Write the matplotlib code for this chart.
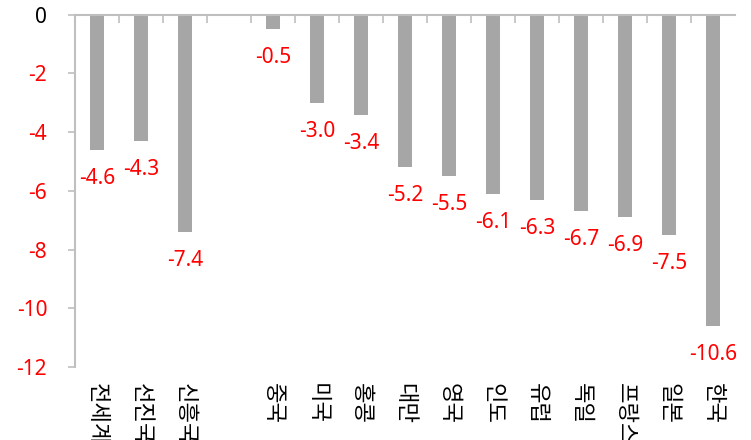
import numpy as np
import matplotlib
matplotlib.use('Agg')
import matplotlib.pyplot as plt
import matplotlib.transforms as mtransforms

plt.rcParams['font.family'] = ['Noto Sans', 'Noto Sans CJK KR', 'DejaVu Sans']

# categories (empty string = gap slot between groups)
categories = ['전세계', '선진국', '신흥국', '',
              '중국', '미국', '홍콩', '대만', '영국', '인도',
              '유럽', '독일', '프랑스', '일본', '한국']
values = [-4.6, -4.3, -7.4, None,
          -0.5, -3.0, -3.4, -5.2, -5.5, -6.1,
          -6.3, -6.7, -6.9, -7.5, -10.6]
yticks = [0, -2, -4, -6, -8, -10, -12]

bar_color = '#A6A6A6'
red = '#FF0000'
axis_color = '#BFBFBF'

fig = plt.figure(figsize=(7.51, 4.40), dpi=100)
ax = fig.add_axes([75 / 751, 1 - 367 / 440, 660 / 751, 352.3 / 440])

xs = [i for i, v in enumerate(values) if v is not None]
vs = [v for v in values if v is not None]
ax.bar(xs, vs, width=0.31, color=bar_color, zorder=2)

# value labels below bar ends
for x, v in zip(xs, vs):
    ax.annotate('%.1f' % v, (x, v), xytext=(0, -13), textcoords='offset points',
                ha='center', va='top', color=red, fontsize=15)

ax.set_xlim(-0.5, len(categories) - 0.5)
ax.set_ylim(-12, 0)

# y axis
ax.set_yticks(yticks)
ax.set_yticklabels([str(t) for t in yticks], fontsize=15)
for lab, t in zip(ax.get_yticklabels(), yticks):
    lab.set_color('black' if t == 0 else red)
ax.tick_params(axis='y', direction='out', length=5, width=1.2, color=axis_color, pad=15)

# x axis on top (y=0), ticks at category boundaries pointing down
ax.xaxis.tick_top()
ax.set_xticks(np.arange(0.5, len(categories) - 0.5, 1.0))
ax.set_xticklabels([])
ax.tick_params(axis='x', direction='in', length=6, width=1.2, color=axis_color)

for side in ['bottom', 'right']:
    ax.spines[side].set_visible(False)
for side in ['top', 'left']:
    ax.spines[side].set_color(axis_color)
    ax.spines[side].set_linewidth(1.5)

# category labels below plot area, rotated
trans = mtransforms.blended_transform_factory(ax.transData, ax.transAxes)
for i, c in enumerate(categories):
    if c:
        ax.text(i, -0.045, c, transform=trans, rotation=-90, ha='center', va='top',
                fontsize=16, family=['Noto Sans CJK KR', 'DejaVu Sans'], color='black')

fig.savefig('out.png', dpi=100)
